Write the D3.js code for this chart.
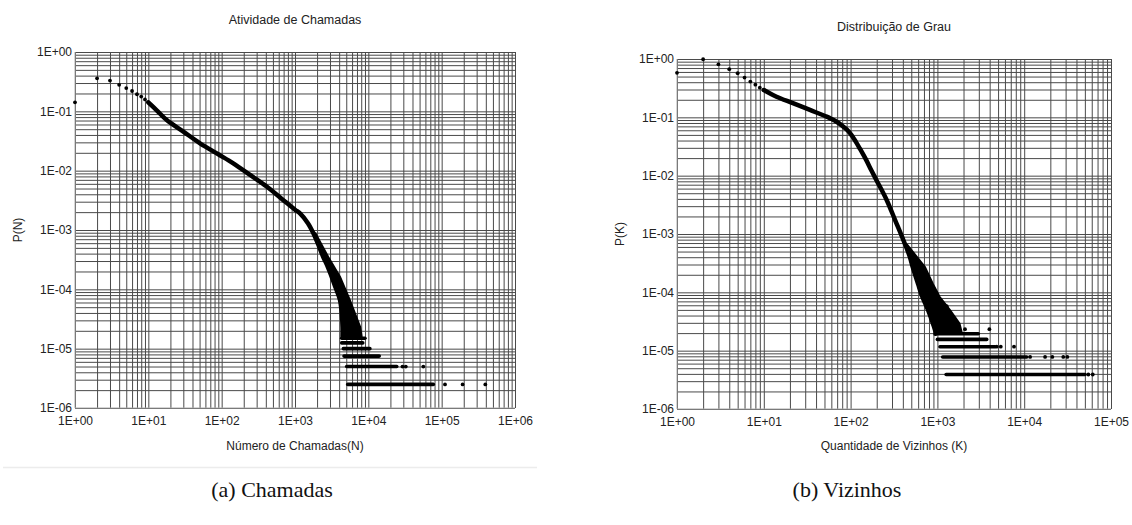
<!DOCTYPE html>
<html>
<head>
<meta charset="utf-8">
<script src="https://cdn.jsdelivr.net/npm/d3@7"></script>
<style>
body { margin: 0; background: #fff; }
text { font-family: "Liberation Sans", Arial, sans-serif; fill: #222; }
.caption { font-family: "Liberation Serif", "DejaVu Serif", serif; fill: #111; }
</style>
</head>
<body>
<script>
// ---- shared axis data
var yTicks = [1, 1e-1, 1e-2, 1e-3, 1e-4, 1e-5, 1e-6];

// ---- (a) Chamadas: P(N) x N
var callsXTicks = [1, 1e1, 1e2, 1e3, 1e4, 1e5, 1e6];
var callsDotsN = [1, 2, 3, 4, 5, 6, 7, 8, 9, 10];
var callsDotsP = [0.142, 0.36, 0.33, 0.28, 0.247, 0.22, 0.194, 0.177, 0.159, 0.142];
var callsCurveN = [10, 13, 17.8, 30, 50.7, 90, 144, 250, 411, 650, 1000, 1170, 1500, 1780, 2100, 2430, 2800, 3160, 3600, 4110, 4350, 4450, 4450];
var callsCurveP = [0.142, 0.104, 0.0714, 0.0456, 0.0289, 0.0189, 0.0133, 0.0083, 0.0054, 0.0034, 0.0022, 0.0019, 0.0013, 8.8e-4, 5.5e-4, 3.5e-4, 2.4e-4, 1.63e-4, 1.05e-4, 6.6e-5, 3.8e-5, 2.3e-5, 1.6e-5];
// right edge of the noisy fan at the end of the curve
var callsFanN = [1900, 2840, 4100, 5600, 7750, 8100];
var callsFanP = [8.8e-4, 3.5e-4, 1.63e-4, 6.6e-5, 2.3e-5, 1.6e-5];
var callsStripP = [2.5e-6, 5e-6, 7.5e-6, 1e-5, 1.25e-5, 1.5e-5];
var callsStripStart = [5230, 5070, 4660, 4560, 4330, 4330];
var callsStripEnd = [77000, 24400, 14100, 10500, 8400, 9000];
var callsOutN = [111000, 193000, 394000, 29200, 32400, 56200];
var callsOutP = [2.5e-6, 2.5e-6, 2.5e-6, 5e-6, 5e-6, 5e-6];

// ---- (b) Vizinhos: P(K) x K
var degXTicks = [1, 1e1, 1e2, 1e3, 1e4, 1e5];
var degDotsK = [1, 2, 3, 4, 5, 6, 7, 8, 9, 10];
var degDotsP = [0.58, 0.99, 0.81, 0.67, 0.57, 0.48, 0.41, 0.363, 0.323, 0.294];
var degCurveK = [10, 14, 22, 34, 53, 60, 69, 80, 90, 100, 115, 128, 150, 175, 200, 261, 330, 405, 480, 520, 600, 670, 780, 890, 950, 950];
var degCurveP = [0.294, 0.226, 0.174, 0.134, 0.1026, 0.094, 0.084, 0.072, 0.062, 0.052, 0.038, 0.029, 0.019, 0.012, 0.0082, 0.0038, 0.00165, 7.9e-4, 4.1e-4, 2.7e-4, 1.38e-4, 8.4e-5, 5e-5, 2.9e-5, 2.1e-5, 1.95e-5];
var degFanK = [450, 720, 890, 1060, 1390, 1800, 1900];
var degFanP = [6.5e-4, 2.7e-4, 1.38e-4, 8.4e-5, 5e-5, 2.9e-5, 2.1e-5];
var degStripP = [3.9e-6, 7.8e-6, 1.17e-5, 1.56e-5, 1.95e-5];
var degStripStart = [1260, 1150, 1070, 1000, 980];
var degStripEnd = [50200, 10700, 4610, 3700, 2960];
var degOutK = [54800, 61600, 11700, 17400, 21100, 28200, 31400, 4820, 5370, 7630, 2080, 3970, 1280];
var degOutP = [3.9e-6, 3.9e-6, 7.8e-6, 7.8e-6, 7.8e-6, 7.8e-6, 7.8e-6, 1.17e-5, 1.17e-5, 1.17e-5, 2.34e-5, 2.34e-5, 5.8e-5];

var svg = d3.select("body").append("svg").attr("width", 1132).attr("height", 525);

function expLabel(v) {
  var e = Math.round(Math.log10(v));
  var a = Math.abs(e);
  return "1E" + (e < 0 ? "-" : "+") + (a < 10 ? "0" : "") + a;
}

function zip(a, b) { return a.map(function(d, i){ return [d, b[i]]; }); }

function drawChart(o) {
  var x = d3.scaleLog().domain([o.xTicks[0], o.xTicks[o.xTicks.length - 1]]).range([o.left, o.right]);
  var y = d3.scaleLog().domain([1e-6, 1]).range([o.bottom, o.top]);
  var h = o.bottom - o.top, w = o.right - o.left;
  var g = svg.append("g");

  // grid, every 1..9 of each decade
  var gx = g.append("g").attr("transform", "translate(0," + o.bottom + ")")
    .call(d3.axisBottom(x).tickValues(x.ticks()).tickSize(-h).tickFormat(""));
  var gy = g.append("g").attr("transform", "translate(" + o.left + ",0)")
    .call(d3.axisLeft(y).tickValues(y.ticks()).tickSize(-w).tickFormat(""));
  [gx, gy].forEach(function(a){
    a.select(".domain").remove();
    a.selectAll("line").attr("stroke", "#4a4a4a").attr("stroke-width", 1);
  });

  // frame (left and bottom are lighter)
  g.append("line").attr("x1", o.left).attr("x2", o.left).attr("y1", o.top).attr("y2", o.bottom).attr("stroke", "#aaa");
  g.append("line").attr("x1", o.left).attr("x2", o.right).attr("y1", o.bottom).attr("y2", o.bottom).attr("stroke", "#aaa");

  // tick labels
  var ax = g.append("g").attr("transform", "translate(0," + o.bottom + ")")
    .call(d3.axisBottom(x).tickValues(o.xTicks).tickSize(0).tickPadding(8).tickFormat(expLabel));
  var ay = g.append("g").attr("transform", "translate(" + o.left + ",0)")
    .call(d3.axisLeft(y).tickValues(yTicks).tickSize(0).tickPadding(3).tickFormat(expLabel));
  [ax, ay].forEach(function(a){
    a.select(".domain").remove();
    a.selectAll("text").style("font-family", "'Liberation Sans', Arial, sans-serif")
      .style("font-size", "12px").attr("fill", "#222");
  });

  // titles
  var cx = (o.left + o.right) / 2;
  g.append("text").attr("x", cx).attr("y", o.titleY).attr("text-anchor", "middle")
    .style("font-size", "12.5px").text(o.title);
  g.append("text").attr("x", cx).attr("y", 450).attr("text-anchor", "middle")
    .style("font-size", "12px").text(o.xLabel);
  g.append("text").attr("transform", "translate(" + o.yLabelX + "," + ((o.top + o.bottom) / 2) + ") rotate(-90)")
    .attr("text-anchor", "middle").style("font-size", "12px").text(o.yLabel);
  g.append("text").attr("class", "caption").attr("x", o.capX).attr("y", 497).attr("text-anchor", "middle")
    .style("font-size", "22px").text(o.caption);

  // marks
  var px = function(d){ return x(d[0]); }, py = function(d){ return y(d[1]); };
  var line = d3.line().x(px).y(py);
  var smooth = d3.line().x(px).y(py).curve(d3.curveCatmullRom.alpha(0.5));
  var marks = g.append("g");

  // fan: tail of the curve down its left side, back up along its right edge
  var curvePts = zip(o.curveX, o.curveP);
  var fanRight = zip(o.fanX, o.fanP);
  var topP = fanRight[0][1];
  var fanPoly = curvePts.filter(function(d){ return d[1] <= topP; }).concat(fanRight.slice().reverse());
  marks.append("path").datum(fanPoly)
    .attr("d", function(d){ return line(d) + "Z"; })
    .attr("fill", "#000").attr("stroke", "#000").attr("stroke-width", 2).attr("stroke-linejoin", "round");

  marks.append("path").datum(curvePts)
    .attr("d", smooth).attr("fill", "none").attr("stroke", "#000")
    .attr("stroke-width", 4.5).attr("stroke-linecap", "round").attr("stroke-linejoin", "round");

  marks.selectAll("line.strip").data(o.stripP).enter().append("line")
    .attr("class", "strip")
    .attr("x1", function(d, i){ return x(o.stripStart[i]); })
    .attr("x2", function(d, i){ return x(o.stripEnd[i]); })
    .attr("y1", function(d){ return y(d); })
    .attr("y2", function(d){ return y(d); })
    .attr("stroke", "#000").attr("stroke-width", 3.6).attr("stroke-linecap", "round");

  marks.selectAll("circle.dot").data(zip(o.dotsX, o.dotsP).concat(zip(o.outX, o.outP))).enter().append("circle")
    .attr("class", "dot")
    .attr("cx", px)
    .attr("cy", py)
    .attr("r", 1.9).attr("fill", "#000");
}

// separator under chart (a)
svg.append("line").attr("x1", 3).attr("x2", 537).attr("y1", 467.5).attr("y2", 467.5)
  .attr("stroke", "#ececec").attr("stroke-width", 1.5);

drawChart({
  left: 75, right: 515, top: 52, bottom: 408, titleY: 24, yLabelX: 22, capX: 272,
  title: "Atividade de Chamadas", xLabel: "Número de Chamadas(N)", yLabel: "P(N)", caption: "(a) Chamadas",
  xTicks: callsXTicks,
  dotsX: callsDotsN, dotsP: callsDotsP,
  curveX: callsCurveN, curveP: callsCurveP,
  fanX: callsFanN, fanP: callsFanP,
  stripP: callsStripP, stripStart: callsStripStart, stripEnd: callsStripEnd,
  outX: callsOutN, outP: callsOutP
});

drawChart({
  left: 677, right: 1111, top: 59, bottom: 409, titleY: 31, yLabelX: 624, capX: 847,
  title: "Distribuição de Grau", xLabel: "Quantidade de Vizinhos (K)", yLabel: "P(K)", caption: "(b) Vizinhos",
  xTicks: degXTicks,
  dotsX: degDotsK, dotsP: degDotsP,
  curveX: degCurveK, curveP: degCurveP,
  fanX: degFanK, fanP: degFanP,
  stripP: degStripP, stripStart: degStripStart, stripEnd: degStripEnd,
  outX: degOutK, outP: degOutP
});
</script>
</body>
</html>
